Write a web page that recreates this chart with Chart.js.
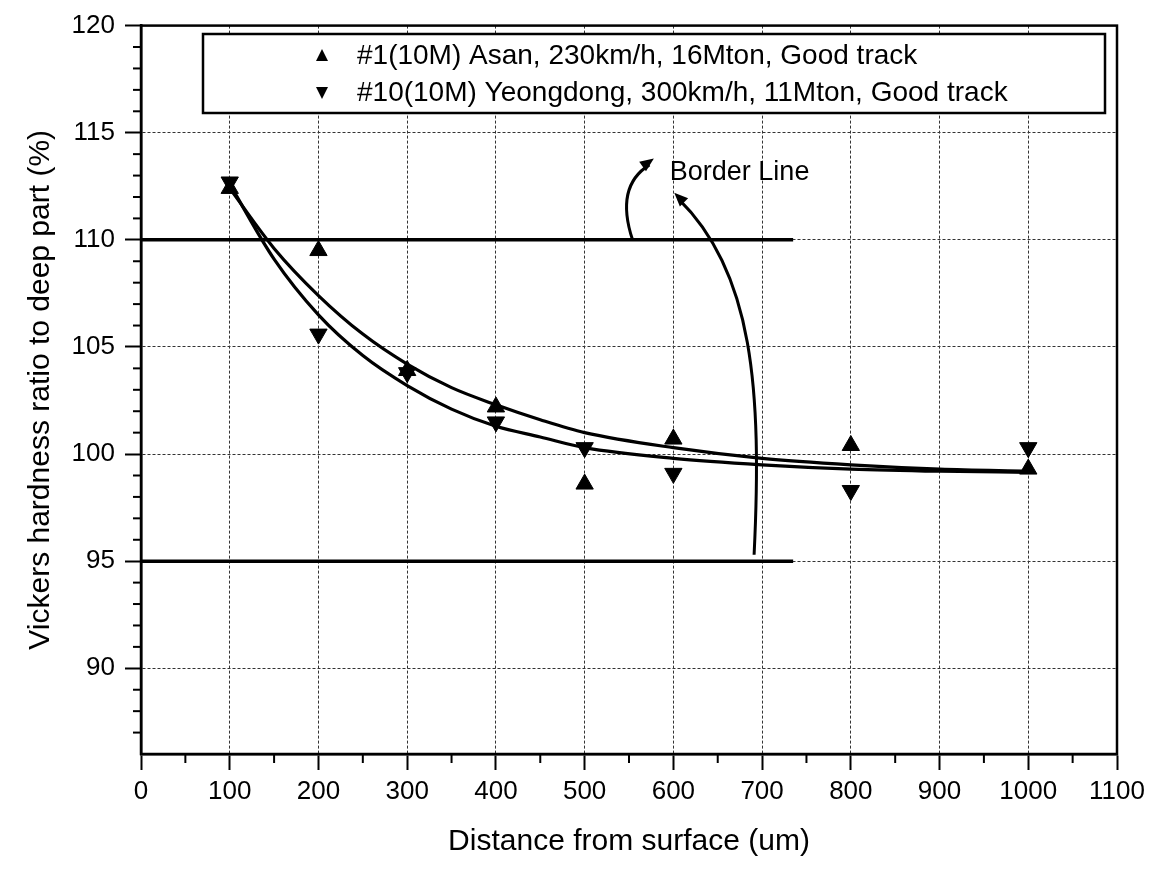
<!DOCTYPE html>
<html>
<head>
<meta charset="utf-8">
<script src="https://cdn.jsdelivr.net/npm/chart.js@4.4.1/dist/chart.umd.min.js"></script>
<style>
  html, body { margin: 0; padding: 0; background: #fff; }
  #wrap { width: 1154px; height: 869px; }
</style>
</head>
<body>
<div id="wrap"><canvas id="chart" width="1154" height="869"></canvas></div>
<script>
// measured points (distance um, hardness ratio %)
var distances = [100, 200, 300, 400, 500, 600, 800, 1000];
var asanValues = [112.4, 109.5, 103.9, 102.2, 98.6, 100.7, 100.4, 99.3];
var yeongdongValues = [112.7, 105.6, 103.8, 101.5, 100.3, 99.1, 98.3, 100.3];

// fitted curves
var fitX = [100, 150, 200, 250, 300, 350, 400, 450, 500, 600, 700, 800, 900, 1000];
var asanFit = [112.4, 109.6, 107.4, 105.6, 104.2, 103.1, 102.3, 101.6, 101.0, 100.3, 99.8, 99.5, 99.3, 99.2];
var yeongdongFit = [112.6, 109.1, 106.5, 104.6, 103.2, 102.1, 101.3, 100.8, 100.3, 99.8, 99.5, 99.3, 99.2, 99.15];

// border lines
var borderLevels = [110, 95];
var borderEnd = 735;

var xTicks = [0, 100, 200, 300, 400, 500, 600, 700, 800, 900, 1000, 1100];
var yTicks = [90, 95, 100, 105, 110, 115, 120];

var legendLabels = [
  '#1(10M) Asan, 230km/h, 16Mton, Good track',
  '#10(10M) Yeongdong, 300km/h, 11Mton, Good track'
];

var FONT = "'Liberation Sans', Arial, sans-serif";

function pairs(xs, ys) {
  return xs.map(function (x, i) { return { x: x, y: ys[i] }; });
}

var lineStyle = { showLine: true, pointRadius: 0, borderColor: '#000', borderWidth: 3.2, cubicInterpolationMode: 'monotone', fill: false };

var datasets = [
  { label: legendLabels[0], data: pairs(distances, asanValues), pointStyle: 'triangle', pointRadius: 10, backgroundColor: '#000', borderColor: '#000', showLine: false },
  { label: legendLabels[1], data: pairs(distances, yeongdongValues), pointStyle: 'triangle', rotation: 180, pointRadius: 10, backgroundColor: '#000', borderColor: '#000', showLine: false },
  Object.assign({ label: 'fit1', data: pairs(fitX, asanFit) }, lineStyle),
  Object.assign({ label: 'fit2', data: pairs(fitX, yeongdongFit) }, lineStyle)
];
borderLevels.forEach(function (lv) {
  datasets.push({ label: 'border', data: [{ x: 0, y: lv }, { x: borderEnd, y: lv }], showLine: true, pointRadius: 0, borderColor: '#000', borderWidth: 3.5 });
});

// frame, minor ticks, arrows and legend box
var extras = {
  id: 'extras',
  afterDatasetsDraw: function (chart) {
    var ctx = chart.ctx, a = chart.chartArea;
    var xs = chart.scales.x, ys = chart.scales.y;
    ctx.save();
    ctx.strokeStyle = '#000';
    ctx.fillStyle = '#000';
    ctx.lineWidth = 2.5;
    ctx.strokeRect(a.left, a.top, a.right - a.left, a.bottom - a.top);

    // minor ticks
    ctx.lineWidth = 2;
    for (var v = 87; v < 120; v++) {
      if (v % 5 === 0) continue;
      var py = ys.getPixelForValue(v);
      ctx.beginPath(); ctx.moveTo(a.left, py); ctx.lineTo(a.left - 8, py); ctx.stroke();
    }
    for (var x = 50; x < 1100; x += 100) {
      var px = xs.getPixelForValue(x);
      ctx.beginPath(); ctx.moveTo(px, a.bottom); ctx.lineTo(px, a.bottom + 9); ctx.stroke();
    }

    // "Border Line" arrows
    function P(x, y) { return [xs.getPixelForValue(x), ys.getPixelForValue(y)]; }
    function arrowHead(tip, from) {
      var ang = Math.atan2(tip[1] - from[1], tip[0] - from[0]);
      ctx.beginPath();
      ctx.moveTo(tip[0], tip[1]);
      ctx.lineTo(tip[0] - 15 * Math.cos(ang - 0.4), tip[1] - 15 * Math.sin(ang - 0.4));
      ctx.lineTo(tip[0] - 15 * Math.cos(ang + 0.4), tip[1] - 15 * Math.sin(ang + 0.4));
      ctx.closePath();
      ctx.fill();
    }
    ctx.lineWidth = 3;
    var p0 = P(691, 95.3), c1 = P(700, 103), c2 = P(690, 108.5), p1 = P(606, 111.9);
    ctx.beginPath(); ctx.moveTo(p0[0], p0[1]);
    ctx.bezierCurveTo(c1[0], c1[1], c2[0], c2[1], p1[0], p1[1]); ctx.stroke();
    arrowHead(P(601, 112.2), c2);
    var q0 = P(554, 110), qc = P(534, 112.5), q1 = P(573, 113.5);
    ctx.beginPath(); ctx.moveTo(q0[0], q0[1]);
    ctx.quadraticCurveTo(qc[0], qc[1], q1[0], q1[1]); ctx.stroke();
    arrowHead(P(578, 113.8), qc);

    ctx.font = '27px ' + FONT;
    ctx.textBaseline = 'alphabetic';
    var tp = P(596, 112.8);
    ctx.fillText('Border Line', tp[0], tp[1]);

    // legend box
    var bx = 203, by = 34, bw = 1105 - 203, bh = 79;
    ctx.fillStyle = '#fff';
    ctx.fillRect(bx, by, bw, bh);
    ctx.lineWidth = 2.5;
    ctx.strokeRect(bx, by, bw, bh);
    ctx.fillStyle = '#000';
    ctx.font = '28px ' + FONT;
    ctx.textBaseline = 'middle';
    [0, 1].forEach(function (i) {
      var ry = by + 22 + i * 37;
      var mx = 322;
      ctx.beginPath();
      if (i === 0) {
        ctx.moveTo(mx, ry - 7); ctx.lineTo(mx + 6, ry + 5); ctx.lineTo(mx - 6, ry + 5);
      } else {
        ctx.moveTo(mx, ry + 6); ctx.lineTo(mx + 6, ry - 6); ctx.lineTo(mx - 6, ry - 6);
      }
      ctx.closePath(); ctx.fill();
      ctx.fillText(legendLabels[i], 357, ry);
    });
    ctx.restore();
  }
};

new Chart(document.getElementById('chart'), {
  type: 'scatter',
  data: { datasets: datasets },
  plugins: [extras],
  options: {
    responsive: false,
    animation: false,
    layout: { autoPadding: false, padding: { left: 0, right: 37, top: 22, bottom: 0 } },
    plugins: { legend: { display: false }, tooltip: { enabled: false } },
    scales: {
      x: {
        type: 'linear', min: 0, max: 1100,
        afterFit: function (s) { s.height = 115; },
        afterBuildTicks: function (s) { s.ticks = xTicks.map(function (v) { return { value: v }; }); },
        grid: { color: '#333', lineWidth: 1, tickLength: 16, tickColor: '#000', tickWidth: 2 },
        border: { color: '#000', width: 2.5, dash: [3, 2] },
        ticks: { color: '#000', padding: 6, maxRotation: 0, font: { family: FONT, size: 26 }, callback: function (v) { return String(v); } },
        title: { display: true, text: 'Distance from surface (um)', color: '#000', padding: { top: 0, bottom: 9 }, font: { family: FONT, size: 30 } }
      },
      y: {
        type: 'linear', min: 86, max: 120,
        afterFit: function (s) { s.width = 141; },
        afterBuildTicks: function (s) { s.ticks = yTicks.map(function (v) { return { value: v }; }); },
        grid: { color: '#333', lineWidth: 1, tickLength: 16, tickColor: '#000', tickWidth: 2 },
        border: { color: '#000', width: 2.5, dash: [3, 2] },
        ticks: { color: '#000', padding: 10, font: { family: FONT, size: 26 } },
        title: { display: true, text: 'Vickers hardness ratio to deep part (%)', color: '#000', padding: { top: 23, bottom: 0 }, font: { family: FONT, size: 30 } }
      }
    }
  }
});
</script>
</body>
</html>
